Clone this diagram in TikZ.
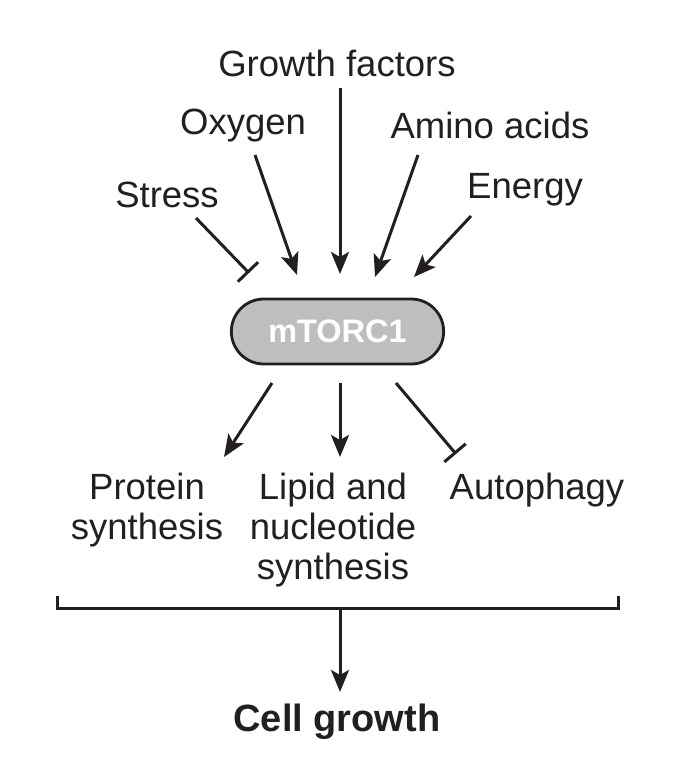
\documentclass[tikz,border=0pt]{standalone}
\usepackage{fontspec}
\setmainfont{Liberation Sans}
\usetikzlibrary{arrows.meta,shapes.misc}
\definecolor{pillgray}{HTML}{BDBEC0}
\definecolor{inkc}{HTML}{231F20}
\tikzset{
  lbl/.style={font=\fontsize{36.5}{40}\selectfont, text=inkc, align=center, inner sep=0pt},
  act/.style={line width=3pt, draw=inkc, -{Stealth[length=22pt,width=18pt,inset=5pt]}},
  inh/.style={line width=3pt, draw=inkc, -{Bar[width=28pt,line width=3pt]}},
  pill/.style={draw=inkc, line width=2.8pt, fill=pillgray, rounded rectangle, minimum width=219pt, minimum height=65pt},
}
\begin{document}
\begin{tikzpicture}[x=1pt,y=-1pt]
\useasboundingbox (0,0) rectangle (698,764);
% inputs
\node[lbl] (gf) at (337,63) {Growth factors};
\node[lbl] (ox) at (243,126) {Oxygen};
\node[lbl] (aa) at (490,125) {Amino acids};
\node[lbl] (st) at (167,195) {Stress};
\node[lbl] (en) at (525,190) {Energy};
% mTORC1
\node[pill] (m) at (337.5,331.5) {};
\node[font=\fontsize{32.5}{36}\selectfont\bfseries, text=white] (mt) at (337.5,331.5) {mTORC1};
% arrow endpoints
\coordinate (gfs) at (340,88);  \coordinate (gfe) at (340,274);
\coordinate (oxs) at (255,155); \coordinate (oxe) at (297,275);
\coordinate (aas) at (418,155); \coordinate (aae) at (375,277);
\coordinate (ens) at (471,216); \coordinate (ene) at (414,277);
\coordinate (sts) at (196,218); \coordinate (ste) at (249,273);
\draw[act] (gfs) -- (gfe);
\draw[act] (oxs) -- (oxe);
\draw[act] (aas) -- (aae);
\draw[act] (ens) -- (ene);
\draw[inh] (sts) -- (ste);
% outputs
\node[lbl] (ps) at (147,510) {Protein\\synthesis};
\node[lbl] (ln) at (333,530) {Lipid and\\nucleotide\\synthesis};
\node[lbl] (au) at (537,490) {Autophagy};
\coordinate (pss) at (272,383); \coordinate (pse) at (224,457);
\coordinate (lns) at (340,383); \coordinate (lne) at (340,457);
\coordinate (aus) at (396,383); \coordinate (aue) at (456,454);
\draw[act] (pss) -- (pse);
\draw[act] (lns) -- (lne);
\draw[inh] (aus) -- (aue);
% bracket
\coordinate (bl) at (57,596); \coordinate (br) at (618,596);
\coordinate (bm) at (340,608);
\draw[line width=3pt, draw=inkc] (bl) |- (br |- bm) -- (br);
\node[font=\fontsize{38}{42}\selectfont\bfseries, text=inkc] (cg) at (337,722) {Cell growth};
\coordinate (cge) at (340,692);
\draw[act] (bm) -- (cge);
\end{tikzpicture}
\end{document}
